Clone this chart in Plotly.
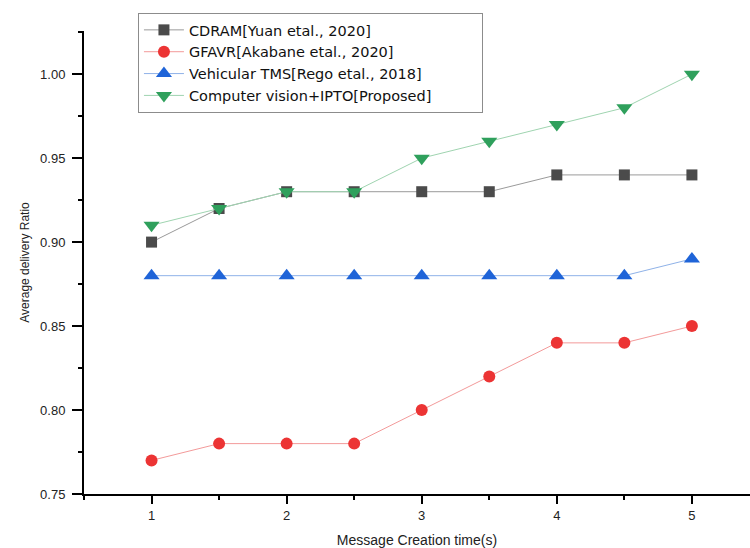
import plotly.graph_objects as go

# Message creation time (s)
creation_time = [1, 1.5, 2, 2.5, 3, 3.5, 4, 4.5, 5]

# Average delivery ratio per scheme
cdram = [0.90, 0.92, 0.93, 0.93, 0.93, 0.93, 0.94, 0.94, 0.94]
gfavr = [0.77, 0.78, 0.78, 0.78, 0.80, 0.82, 0.84, 0.84, 0.85]
vehicular_tms = [0.88, 0.88, 0.88, 0.88, 0.88, 0.88, 0.88, 0.88, 0.89]
proposed = [0.91, 0.92, 0.93, 0.93, 0.95, 0.96, 0.97, 0.98, 1.00]

series_names = [
    "CDRAM[Yuan etal., 2020]",
    "GFAVR[Akabane etal., 2020]",
    "Vehicular TMS[Rego etal., 2018]",
    "Computer vision+IPTO[Proposed]",
]

y_ticks = [0.75, 0.80, 0.85, 0.90, 0.95, 1.00]
x_ticks = [1, 2, 3, 4, 5]

FONT = "Liberation Sans, Arial, sans-serif"
LEGEND_FONT = "DejaVu Sans, sans-serif"

styles = [
    dict(symbol="square", size=11, color="#4b4b4b", line="#9a9a9a"),
    dict(symbol="circle", size=12, color="#ec3434", line="#f39a9a"),
    dict(symbol="triangle-up", size=14, color="#1f64d8", line="#8fb2e8"),
    dict(symbol="triangle-down", size=14, color="#2fa05c", line="#9fd4b0"),
]

fig = go.Figure()
for name, values, st in zip(series_names, [cdram, gfavr, vehicular_tms, proposed], styles):
    fig.add_trace(
        go.Scatter(
            x=creation_time,
            y=values,
            name=name,
            mode="lines+markers",
            line=dict(color=st["line"], width=1),
            marker=dict(symbol=st["symbol"], size=st["size"], color=st["color"],
                        line=dict(width=0)),
        )
    )

fig.update_layout(
    width=750,
    height=548,
    margin=dict(l=84, r=0, t=31, b=54),
    paper_bgcolor="white",
    plot_bgcolor="white",
    font=dict(family=FONT, size=13, color="#222222"),
    showlegend=True,
    legend=dict(
        orientation="h",
        entrywidth=288,
        x=0.081,
        y=1.039,
        xanchor="left",
        yanchor="top",
        bgcolor="white",
        bordercolor="#8c8c8c",
        borderwidth=1,
        font=dict(family=LEGEND_FONT, size=14.5, color="#111111"),
        itemwidth=40,
        tracegroupgap=0,
    ),
    xaxis=dict(
        range=[0.5, 5.43],
        tickvals=x_ticks,
        ticktext=[str(v) for v in x_ticks],
        ticks="outside",
        ticklen=8,
        tickwidth=2,
        tickcolor="black",
        showline=True,
        linecolor="black",
        linewidth=2,
        showgrid=False,
        zeroline=False,
        minor=dict(dtick=0.5, tick0=0.5, ticks="outside", ticklen=4, tickwidth=2,
                   tickcolor="black", showgrid=False),
        title=dict(text="Message Creation time(s)", font=dict(size=14), standoff=14),
        tickfont=dict(size=13),
    ),
    yaxis=dict(
        range=[0.75, 1.0257],
        tickvals=y_ticks,
        ticktext=[f"{v:.2f}" for v in y_ticks],
        ticks="outside",
        ticklen=10,
        tickwidth=2,
        tickcolor="black",
        showline=True,
        linecolor="black",
        linewidth=2,
        showgrid=False,
        zeroline=False,
        minor=dict(dtick=0.025, tick0=0.75, ticks="outside", ticklen=4, tickwidth=2,
                   tickcolor="black", showgrid=False),
        title=dict(text="Average delivery Ratio", font=dict(size=12), standoff=8),
        tickfont=dict(size=13),
        ticklabelstandoff=4,
    ),
)

fig.write_html("out.html")
